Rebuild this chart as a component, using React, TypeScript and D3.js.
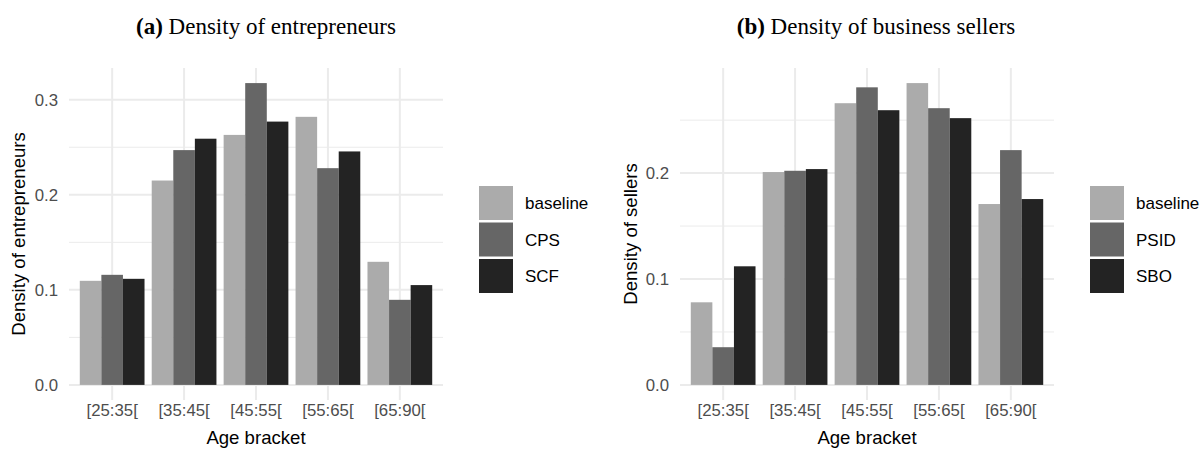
import React from "react";
import * as d3 from "d3";

const categories = ["[25:35[", "[35:45[", "[45:55[", "[55:65[", "[65:90["];

const seriesA = ["baseline", "CPS", "SCF"];
const baselineA = [0.1095, 0.215, 0.263, 0.282, 0.1295];
const cpsA = [0.1158, 0.247, 0.3175, 0.228, 0.0895];
const scfA = [0.1116, 0.259, 0.277, 0.2456, 0.105];

const seriesB = ["baseline", "PSID", "SBO"];
const baselineB = [0.078, 0.201, 0.266, 0.285, 0.1708];
const psidB = [0.0356, 0.2022, 0.281, 0.2613, 0.2217];
const sboB = [0.112, 0.2038, 0.2594, 0.2519, 0.1755];

const ticksA = [0, 0.1, 0.2, 0.3];
const minorA = [0.05, 0.15, 0.25];
const ticksB = [0, 0.1, 0.2];
const minorB = [0.05, 0.15, 0.25];

const fills = ["#ababab", "#666666", "#232323"];
const GRID = "#ebebeb";
const SANS = "'Liberation Sans', Arial, sans-serif";
const SERIF = "'Liberation Serif', 'Times New Roman', serif";

type PanelProps = {
  letter: string;
  title: string;
  titleX: number;
  ytitle: string;
  ytitleX: number;
  series: string[];
  values: number[][];
  ticks: number[];
  minor: number[];
  x0: number;
  x1: number;
  legendX: number;
};

function Panel(p: PanelProps) {
  const y0 = 400;
  const y1 = 68;
  const maxV = d3.max(p.values.flat()) as number;
  const y = d3.scaleLinear().domain([-0.05 * maxV, 1.05 * maxV]).range([y0, y1]);
  const x = d3.scaleLinear().domain([0.4, categories.length + 0.6]).range([p.x0, p.x1]);
  const step = x(2) - x(1);
  const dodge = d3
    .scaleBand<string>()
    .domain(p.series)
    .range([-0.45 * step, 0.45 * step])
    .padding(0);
  const fmt = d3.format(".1f");
  const cx = (p.x0 + p.x1) / 2;
  const cy = (y0 + y1) / 2;
  return (
    <g>
      <text x={p.titleX} y={34} textAnchor="middle" fontFamily={SERIF} fontSize={23} fill="#000">
        <tspan fontWeight="bold">{p.letter}</tspan>
        <tspan> {p.title}</tspan>
      </text>
      {p.minor.map((t) => (
        <line key={"mn" + t} x1={p.x0} x2={p.x1} y1={y(t)} y2={y(t)} stroke={GRID} strokeWidth={1} />
      ))}
      {p.ticks.map((t) => (
        <line key={"mj" + t} x1={p.x0} x2={p.x1} y1={y(t)} y2={y(t)} stroke={GRID} strokeWidth={2} />
      ))}
      {categories.map((c, i) => (
        <line key={"v" + c} x1={x(i + 1)} x2={x(i + 1)} y1={y0} y2={y1} stroke={GRID} strokeWidth={2} />
      ))}
      {p.series.map((s, si) =>
        categories.map((c, i) => {
          const v = p.values[si][i];
          return (
            <rect
              key={s + c}
              x={x(i + 1) + (dodge(s) as number)}
              width={dodge.bandwidth()}
              y={y(v)}
              height={y(0) - y(v)}
              fill={fills[si]}
            />
          );
        })
      )}
      {p.ticks.map((t) => (
        <text
          key={"yl" + t}
          x={p.x0 - 11}
          y={y(t)}
          dy="0.36em"
          textAnchor="end"
          fontFamily={SANS}
          fontSize={16.8}
          fill="#4d4d4d"
        >
          {fmt(t)}
        </text>
      ))}
      {categories.map((c, i) => (
        <text
          key={"xl" + c}
          x={x(i + 1)}
          y={415.5}
          textAnchor="middle"
          fontFamily={SANS}
          fontSize={16.8}
          fill="#4d4d4d"
        >
          {c}
        </text>
      ))}
      <text x={cx} y={444} textAnchor="middle" fontFamily={SANS} fontSize={18.6} fill="#000">
        Age bracket
      </text>
      <text
        transform={`translate(${p.ytitleX},${cy}) rotate(-90)`}
        textAnchor="middle"
        dy="0.35em"
        fontFamily={SANS}
        fontSize={18.6}
        fill="#000"
      >
        {p.ytitle}
      </text>
      {p.series.map((s, si) => (
        <g key={"lg" + s} transform={`translate(${p.legendX},${186 + si * 36.5})`}>
          <rect x={0} y={0} width={34} height={34} fill={fills[si]} />
          <text x={46} y={17} dy="0.36em" fontFamily={SANS} fontSize={17} fill="#000">
            {s}
          </text>
        </g>
      ))}
    </g>
  );
}

export default function App() {
  return (
    <svg width={1200} height={449} style={{ position: "absolute", left: 0, top: 0, background: "#fff" }}>
      <rect width={1200} height={449} fill="#fff" />
      <Panel
        letter="(a)"
        title="Density of entrepreneurs"
        titleX={266}
        ytitle="Density of entrepreneurs"
        ytitleX={18}
        series={seriesA}
        values={[baselineA, cpsA, scfA]}
        ticks={ticksA}
        minor={minorA}
        x0={69}
        x1={443}
        legendX={479}
      />
      <Panel
        letter="(b)"
        title="Density of business sellers"
        titleX={876}
        ytitle="Density of sellers"
        ytitleX={630}
        series={seriesB}
        values={[baselineB, psidB, sboB]}
        ticks={ticksB}
        minor={minorB}
        x0={680}
        x1={1054}
        legendX={1090}
      />
    </svg>
  );
}
